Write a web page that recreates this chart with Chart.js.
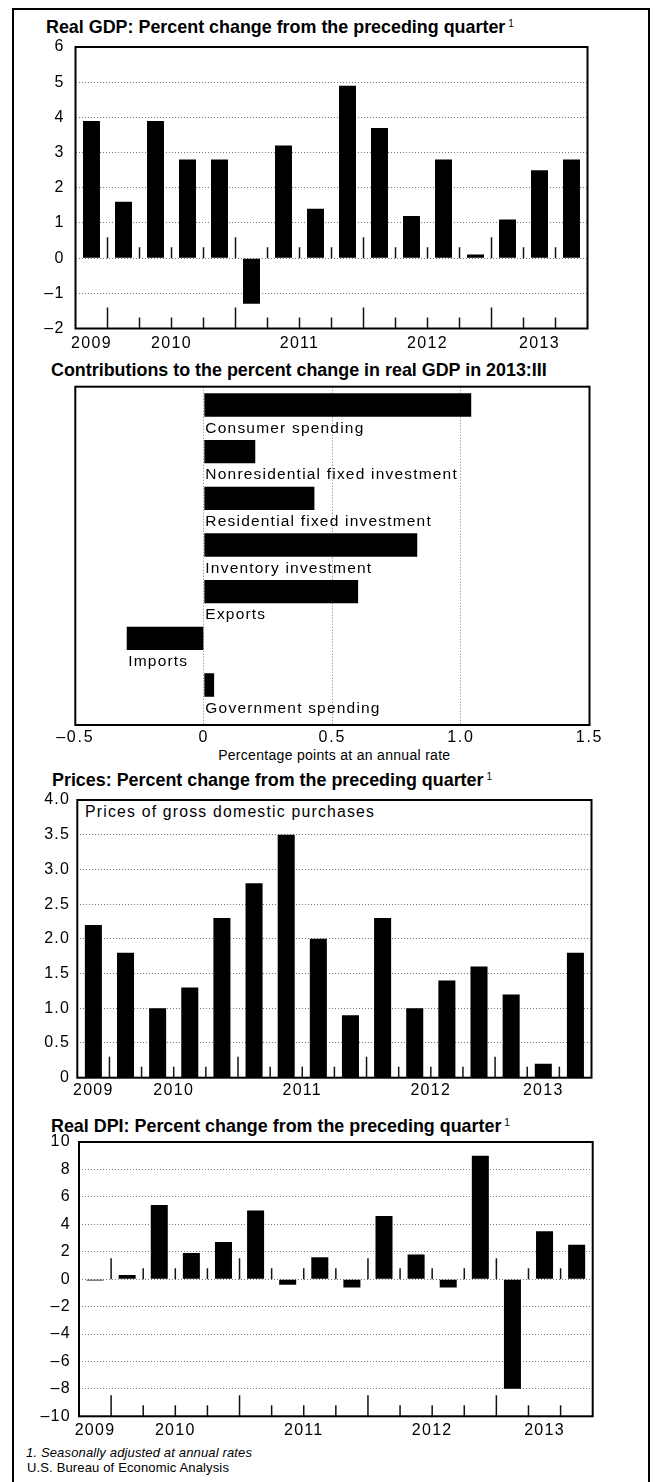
<!DOCTYPE html>
<html><head><meta charset="utf-8">
<script src="https://cdn.jsdelivr.net/npm/chart.js@4.4.0/dist/chart.umd.min.js"></script>
<style>
html,body{margin:0;padding:0;background:#fff;}
body{width:655px;height:1482px;position:relative;overflow:hidden;font-family:"Liberation Sans",Arial,Helvetica,sans-serif;color:#000;}
.frame{position:absolute;left:12px;top:8px;width:634px;height:1520px;border:2px solid #000;}
.t{position:absolute;white-space:nowrap;line-height:1;margin:0;}
.title{font-weight:bold;font-size:17.9px;}
.title sup{font-size:10px;font-weight:normal;vertical-align:top;line-height:1;margin-left:3px;}
canvas{position:absolute;left:0;}
</style></head>
<body>
<div class="frame"></div>
<div class="t title" style="left:46px;top:19.4px">Real GDP: Percent change from the preceding quarter<sup>1</sup></div>
<div class="t title" style="left:51px;top:361.6px">Contributions to the percent change in real GDP in 2013:III</div>
<div class="t" style="left:134.3px;top:748.2px;width:400px;text-align:center;font-size:14px;letter-spacing:0.3px">Percentage points at an annual rate</div>
<div class="t title" style="left:52px;top:772.2px">Prices: Percent change from the preceding quarter<sup>1</sup></div>
<div class="t" style="left:85px;top:803.9px;font-size:15.8px;letter-spacing:1.2px">Prices of gross domestic purchases</div>
<div class="t title" style="left:51px;top:1117.6px">Real DPI: Percent change from the preceding quarter<sup>1</sup></div>
<div class="t" style="left:26px;top:1446.3px;font-size:13px;font-style:italic;letter-spacing:0.15px">1. Seasonally adjusted at annual rates</div>
<div class="t" style="left:27px;top:1460.7px;font-size:13px;letter-spacing:0.15px">U.S. Bureau of Economic Analysis</div>

<canvas id="c1" width="655" height="334" style="top:25px"></canvas>
<canvas id="c2" width="655" height="385" style="top:375px"></canvas>
<canvas id="c3" width="655" height="330" style="top:778px"></canvas>
<canvas id="c4" width="655" height="326" style="top:1119.7px"></canvas>

<script>
// ---------- data ----------
const quarters = ['2009:IV','2010:I','2010:II','2010:III','2010:IV','2011:I','2011:II','2011:III','2011:IV',
                  '2012:I','2012:II','2012:III','2012:IV','2013:I','2013:II','2013:III'];
const gdpChange   = [3.9, 1.6, 3.9, 2.8, 2.8, -1.3, 3.2, 1.4, 4.9, 3.7, 1.2, 2.8, 0.1, 1.1, 2.5, 2.8];
const contribCategories = ['Consumer spending','Nonresidential fixed investment','Residential fixed investment',
                           'Inventory investment','Exports','Imports','Government spending'];
const contribValues = [1.04, 0.20, 0.43, 0.83, 0.60, -0.30, 0.04];
const priceChange = [2.2, 1.8, 1.0, 1.3, 2.3, 2.8, 3.5, 2.0, 0.9, 2.3, 1.0, 1.4, 1.6, 1.2, 0.2, 1.8];
const dpiChange   = [-0.1, 0.3, 5.4, 1.9, 2.7, 5.0, -0.4, 1.6, -0.6, 4.6, 1.8, -0.6, 9.0, -8.0, 3.5, 2.5];
const gdpAxis   = {min: -2, max: 6, step: 1};
const contribAxis = {min: -0.5, max: 1.5, step: 0.5};
const priceAxis = {min: 0, max: 4, step: 0.5};
const dpiAxis   = {min: -10, max: 10, step: 2};

// year labels centred under their quarters
const yearMarks = (() => {
  const m = {};
  quarters.forEach((q, i) => { const y = q.slice(0, 4); (m[y] = m[y] || []).push(i); });
  return Object.keys(m).map(y => ({label: y, value: m[y].reduce((a, b) => a + b, 0) / m[y].length}));
})();

const FONT = '"Liberation Sans", Arial, Helvetica, sans-serif';
const DASH = '\u2013';
const fmtInt = v => v < 0 ? DASH + Math.abs(v) : String(v);
const fmtOne = v => Math.abs(v) < 1e-9 ? '0' : (v < 0 ? DASH : '') + Math.abs(v).toFixed(1);

// ---------- plugins ----------
const spacingPlugin = {
  id: 'spacing',
  beforeUpdate(chart, a, o) { chart.ctx.letterSpacing = (o.px || 0) + 'px'; },
  beforeDraw(chart, a, o) { chart.ctx.letterSpacing = (o.px || 0) + 'px'; }
};
const boxPlugin = {
  id: 'box',
  afterDraw(chart) {
    const a = chart.chartArea, c = chart.ctx;
    c.save(); c.strokeStyle = '#000'; c.lineWidth = 2;
    c.strokeRect(a.left, a.top, a.right - a.left, a.bottom - a.top);
    c.restore();
  }
};
const quarterTickPlugin = {
  id: 'qticks',
  afterDatasetsDraw(chart, a, o) {
    const xl = chart.scales.xl, y = chart.scales.y, c = chart.ctx;
    const y0 = y.getPixelForValue(0), yb = chart.chartArea.bottom;
    c.save(); c.strokeStyle = '#111'; c.lineWidth = 1.5;
    for (let i = 1; i < quarters.length; i++) {
      const tall = quarters[i].endsWith(':I');
      const px = xl.getPixelForValue(i - 0.5);
      const len = tall ? 21 : 11;
      c.beginPath();
      c.moveTo(px, yb); c.lineTo(px, yb - len);
      if (o.zero) { c.moveTo(px, y0); c.lineTo(px, y0 - len); }
      c.stroke();
    }
    c.restore();
  }
};
const barLabelPlugin = {
  id: 'barLabels',
  afterDatasetsDraw(chart) {
    const x = chart.scales.x, y = chart.scales.y, c = chart.ctx;
    c.save();
    c.letterSpacing = '1.2px';
    c.font = '15.5px ' + FONT; c.fillStyle = '#000';
    c.textAlign = 'left'; c.textBaseline = 'alphabetic';
    contribCategories.forEach((name, i) => {
      const v = contribValues[i];
      c.fillText(name, x.getPixelForValue(Math.min(0, v)) + 1.5, y.getPixelForValue(i + 0.59));
    });
    c.restore();
  }
};

// ---------- quarterly bar charts ----------
function quarterChart(cfg) {
  return new Chart(document.getElementById(cfg.id), {
    type: 'bar',
    data: {labels: quarters, datasets: [{data: cfg.values, backgroundColor: '#000', borderWidth: 0,
                                         barPercentage: 0.53, categoryPercentage: 1}]},
    options: {
      responsive: false, animation: false, devicePixelRatio: 1,
      layout: {padding: {top: 22, right: 655 - cfg.boxRight, left: 0, bottom: 0}},
      plugins: {legend: {display: false}, tooltip: {enabled: false}, spacing: {px: 1.3}, qticks: {zero: cfg.zeroTicks}},
      scales: {
        x: {type: 'category', display: false, offset: true},
        xl: {
          type: 'linear', position: 'bottom', offset: false, bounds: 'data',
          min: -0.5, max: quarters.length - 0.5,
          afterBuildTicks: s => { s.ticks = yearMarks.map(m => ({value: m.value})); },
          afterFit: s => { s.height = cfg.axisH; },
          grid: {display: false, drawTicks: false, offset: false}, border: {display: false},
          ticks: {autoSkip: false, maxRotation: 0, padding: cfg.xPad, color: '#000',
                  font: {family: FONT, size: 16}, callback: (v, i) => yearMarks[i].label}
        },
        y: {
          min: cfg.axis.min, max: cfg.axis.max,
          afterFit: s => { s.width = cfg.boxLeft; },
          ticks: {stepSize: cfg.axis.step, padding: cfg.yPad, color: '#000',
                  font: {family: FONT, size: 16}, callback: cfg.fmt},
          grid: {color: '#7a7a7a', lineWidth: 1, drawTicks: false},
          border: {display: false, dash: [1, 2]}
        }
      }
    },
    plugins: [spacingPlugin, quarterTickPlugin, boxPlugin]
  });
}

quarterChart({id: 'c1', values: gdpChange, axis: gdpAxis, fmt: fmtInt,
  boxLeft: 75.5, boxRight: 587.5, axisH: 30.5, xPad: 5.9, yPad: 10.8, zeroTicks: true});
quarterChart({id: 'c3', values: priceChange, axis: priceAxis, fmt: fmtOne,
  boxLeft: 77.3, boxRight: 591.5, axisH: 30.3, xPad: 3.7, yPad: 7, zeroTicks: false});
quarterChart({id: 'c4', values: dpiChange, axis: dpiAxis, fmt: fmtInt,
  boxLeft: 79, boxRight: 592.7, axisH: 29.7, xPad: 4.9, yPad: 8, zeroTicks: true});

// ---------- contributions (horizontal bars) ----------
new Chart(document.getElementById('c2'), {
  type: 'bar',
  data: {datasets: [{data: contribValues.map((v, i) => ({x: v, y: i})), backgroundColor: '#000', borderWidth: 0,
                     barPercentage: 0.5, categoryPercentage: 1}]},
  options: {
    indexAxis: 'y', responsive: false, animation: false, devicePixelRatio: 1,
    layout: {padding: {top: 11.7, left: 75.3, right: 655 - 589.5, bottom: 0}},
    plugins: {legend: {display: false}, tooltip: {enabled: false}, spacing: {px: 1.8}},
    scales: {
      y: {type: 'linear', display: false, reverse: true, offset: false, bounds: 'data',
          min: -0.392, max: 6.857,
          afterBuildTicks: s => { s.ticks = contribCategories.map((c, i) => ({value: i})); },
          grid: {offset: false}},
      x: {
        type: 'linear', position: 'bottom', min: contribAxis.min, max: contribAxis.max, offset: false,
        afterFit: s => { s.height = 35; },
        ticks: {stepSize: contribAxis.step, padding: 3.4, color: '#000', font: {family: FONT, size: 16}, callback: fmtOne},
        grid: {color: '#7a7a7a', lineWidth: 1, drawTicks: false},
        border: {display: false, dash: [1, 2]}
      }
    }
  },
  plugins: [spacingPlugin, barLabelPlugin, boxPlugin]
});
</script>
</body></html>
